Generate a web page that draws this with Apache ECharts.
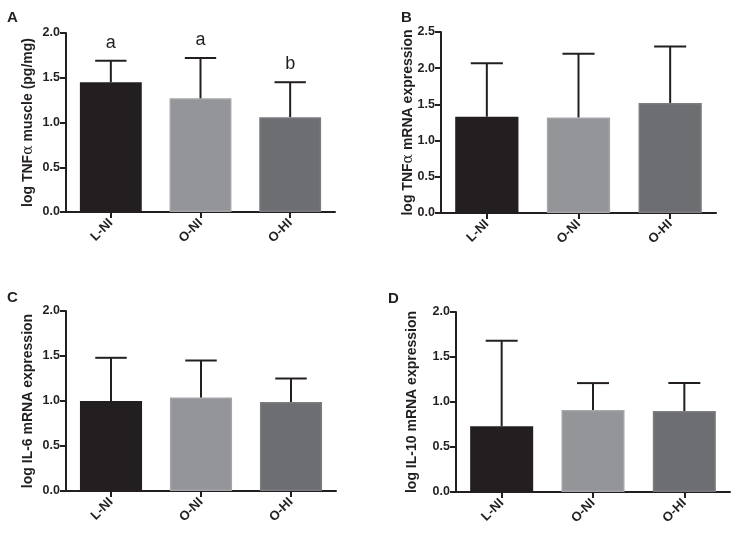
<!DOCTYPE html>
<html>
<head>
<meta charset="utf-8">
<script src="https://cdn.jsdelivr.net/npm/echarts@6/dist/echarts.min.js"></script>
<style>
html,body{margin:0;padding:0;background:#fff;}
#chart{width:736px;height:535px;}
</style>
</head>
<body>
<div id="chart"></div>
<script>
// ---- data ----
var categories = ['L-NI', 'O-NI', 'O-HI'];
var panelLetters = ['A', 'B', 'C', 'D'];

var tnfMuscleMean = [1.45, 1.27, 1.06];
var tnfMuscleUpper = [1.69, 1.72, 1.45];
var tnfMuscleSig = ['a', 'a', 'b'];

var tnfMrnaMean = [1.33, 1.32, 1.52];
var tnfMrnaUpper = [2.07, 2.20, 2.30];

var il6Mean = [1.00, 1.04, 0.99];
var il6Upper = [1.48, 1.45, 1.25];

var il10Mean = [0.73, 0.91, 0.90];
var il10Upper = [1.68, 1.21, 1.21];

var yMaxA = 2.0, yMaxB = 2.5, yMaxC = 2.0, yMaxD = 2.0;
var yInterval = 0.5;

// ---- styling ----
var FONT = "'Liberation Sans', Arial, Helvetica, sans-serif";
var INK = '#231f20';
var barColors = ['#231f20', '#939598', '#6d6e71'];
var barBorders = ['#231f20', '#a4a5a8', '#7b7c80'];

var grids = [
  {left: 66, top: 33, width: 269, height: 179},
  {left: 441, top: 32, width: 275, height: 181},
  {left: 66, top: 311, width: 270, height: 180},
  {left: 456, top: 312, width: 274, height: 180}
];
var yNames = [
  'log TNF{g|α} muscle (pg/mg)',
  'log TNF{g|α} mRNA expression',
  'log IL-6 mRNA expression',
  'log IL-10 mRNA expression'
];
var nameGaps = [31, 26, 31, 37];
var yMaxes = [yMaxA, yMaxB, yMaxC, yMaxD];
var means = [tnfMuscleMean, tnfMrnaMean, il6Mean, il10Mean];
var uppers = [tnfMuscleUpper, tnfMrnaUpper, il6Upper, il10Upper];
var sigs = [tnfMuscleSig, null, null, null];

var xAxes = [], yAxes = [], series = [];
for (var p = 0; p < 4; p++) {
  xAxes.push({
    gridIndex: p, type: 'category', data: categories,
    axisLine: {lineStyle: {color: INK, width: 2}},
    axisTick: {show: true, alignWithLabel: true, length: 6, lineStyle: {color: INK, width: 2}},
    axisLabel: {rotate: 45, margin: 9, color: INK, fontFamily: FONT, fontWeight: 'bold', fontSize: 13},
    splitLine: {show: false}
  });
  yAxes.push({
    gridIndex: p, type: 'value', min: 0, max: yMaxes[p], interval: yInterval,
    name: yNames[p], nameLocation: 'middle', nameGap: nameGaps[p], nameRotate: 90,
    nameMoveOverlap: false,
    nameTextStyle: {color: INK, fontFamily: FONT, fontWeight: 'bold', fontSize: 14,
      rich: {g: {fontFamily: "'DejaVu Serif', 'Liberation Serif', serif", fontWeight: 'normal', fontSize: 14, color: INK}}},
    axisLine: {show: true, lineStyle: {color: INK, width: 2}},
    axisTick: {show: true, length: 6, lineStyle: {color: INK, width: 2}},
    axisLabel: {margin: 6, color: INK, fontFamily: FONT, fontWeight: 'bold', fontSize: 12.5,
      formatter: function (v) { return v.toFixed(1); }},
    splitLine: {show: false}
  });
  var barData = means[p].map(function (v, i) {
    return {value: v, itemStyle: {color: barColors[i], borderColor: barBorders[i], borderWidth: i === 0 ? 0 : 1.5}};
  });
  series.push({
    type: 'bar', xAxisIndex: p, yAxisIndex: p, data: barData,
    barWidth: '69%', silent: true, animation: false
  });
  var errData = means[p].map(function (v, i) { return [i, v, uppers[p][i]]; });
  (function (sig) {
    series.push({
      type: 'custom', xAxisIndex: p, yAxisIndex: p, data: errData, z: 3, animation: false, silent: true,
      renderItem: function (params, api) {
        var idx = api.value(0);
        var lo = api.coord([idx, api.value(1)]);
        var hi = api.coord([idx, api.value(2)]);
        var band = api.size([1, 0])[0];
        var hw = band * 0.175;
        var ls = {stroke: INK, lineWidth: 2};
        var children = [
          {type: 'line', shape: {x1: lo[0], y1: lo[1], x2: hi[0], y2: hi[1]}, style: ls},
          {type: 'line', shape: {x1: hi[0] - hw, y1: hi[1], x2: hi[0] + hw, y2: hi[1]}, style: ls}
        ];
        if (sig) {
          children.push({type: 'text', style: {text: sig[params.dataIndex], x: hi[0], y: hi[1] - 9,
            align: 'center', verticalAlign: 'bottom', fill: INK, font: '18px ' + FONT}});
        }
        return {type: 'group', children: children};
      }
    });
  })(sigs[p]);
}

var letterPos = [[7, 10], [401, 10], [7, 290], [388, 291]];
var graphics = letterPos.map(function (pos, i) {
  return {type: 'text', left: pos[0], top: pos[1],
    style: {text: panelLetters[i], font: 'bold 15px ' + FONT, fill: INK}};
});

var chart = echarts.init(document.getElementById('chart'), null, {renderer: 'canvas'});
chart.setOption({
  animation: false,
  backgroundColor: '#fff',
  grid: grids,
  xAxis: xAxes,
  yAxis: yAxes,
  series: series,
  graphic: graphics
});
</script>
</body>
</html>
